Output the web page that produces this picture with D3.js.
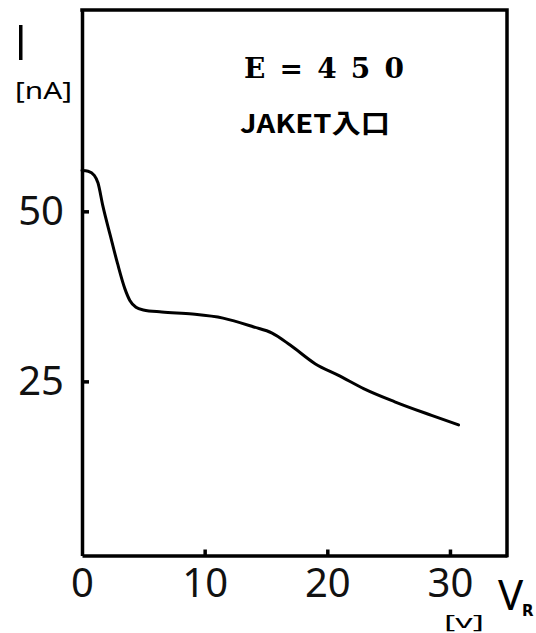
<!DOCTYPE html>
<html>
<head>
<meta charset="utf-8">
<script src="https://cdn.jsdelivr.net/npm/d3@7"></script>
<style>
  body { margin: 0; background: #fff; }
  svg { display: block; }
  .axis path, .axis line { stroke: #000; stroke-width: 3.5; }
  .axis text { font-family: "Noto Sans", sans-serif; fill: #111; }
</style>
</head>
<body>
<div id="chart"></div>
<script>
// retarding voltage V_R [V] and current I [nA]
var voltage = [0, 0.5, 1.0, 1.3, 1.7, 2.3, 2.9, 3.5, 3.9, 4.4, 5.0, 6.5, 9, 11.5, 14, 15.5, 17, 19, 21, 23, 25.5, 28.5, 30.7];
var current = [56.0, 55.9, 55.3, 54.2, 50.8, 46.5, 42.3, 38.6, 36.9, 35.9, 35.5, 35.2, 34.9, 34.3, 33.0, 32.1, 30.3, 27.6, 25.8, 23.9, 22.0, 20.0, 18.6];

var xTicks = [0, 10, 20, 30];
var yTicks = [25, 50];

var W = 536, H = 633;
var margin = {left: 82, right: 507, top: 10, bottom: 555.5};

var svg = d3.select("#chart").append("svg")
    .attr("width", W)
    .attr("height", H);

var x = d3.scaleLinear().domain([0, 34.65]).range([margin.left, margin.right]);
var y = d3.scaleLinear().domain([-0.6, 79.6]).range([margin.bottom, margin.top]);

// frame top and right
svg.append("path")
    .attr("d", "M" + x(0) + "," + y(79.6) + "H" + x(34.65) + "V" + y(-0.6))
    .attr("fill", "none")
    .attr("stroke", "#000")
    .attr("stroke-width", 3.5)
    .attr("stroke-linecap", "square");

// x axis, ticks pointing inward
var xAxis = d3.axisBottom(x)
    .tickValues(xTicks)
    .tickSizeInner(-6)
    .tickSizeOuter(0)
    .tickPadding(13)
    .tickFormat(d3.format("d"));

var gx = svg.append("g")
    .attr("class", "axis")
    .attr("transform", "translate(0," + margin.bottom + ")")
    .call(xAxis);
gx.selectAll("text").attr("font-size", 40).attr("dy", "0.72em");
gx.selectAll(".tick").filter(function(d) { return d === 0; }).select("line").remove();

// y axis
var yAxis = d3.axisLeft(y)
    .tickValues(yTicks)
    .tickSizeInner(-7)
    .tickSizeOuter(0)
    .tickPadding(18);

var gy = svg.append("g")
    .attr("class", "axis")
    .attr("transform", "translate(" + margin.left + ",0)")
    .call(yAxis);
gy.selectAll("text").attr("font-size", 40);

// curve
var line = d3.line()
    .x(function(d, i) { return x(voltage[i]); })
    .y(function(d) { return y(d); })
    .curve(d3.curveMonotoneX);

svg.append("path")
    .datum(current)
    .attr("d", line)
    .attr("fill", "none")
    .attr("stroke", "#000")
    .attr("stroke-width", 3)
    .attr("stroke-linejoin", "round")
    .attr("stroke-linecap", "round");

// axis titles
svg.append("rect")
    .attr("x", 19).attr("y", 25).attr("width", 3.5).attr("height", 35)
    .attr("fill", "#000");

svg.append("text")
    .attr("x", 15).attr("y", 99)
    .attr("font-family", "'Noto Sans', sans-serif")
    .attr("font-size", 24)
    .attr("textLength", 57)
    .attr("lengthAdjust", "spacingAndGlyphs")
    .text("[nA]");

svg.append("text")
    .attr("x", 498).attr("y", 610)
    .attr("font-family", "'Noto Sans', sans-serif")
    .attr("font-size", 42)
    .text("V");

svg.append("text")
    .attr("x", 522).attr("y", 616)
    .attr("font-family", "'DejaVu Sans', sans-serif")
    .attr("font-weight", "bold")
    .attr("font-size", 15)
    .text("R");

svg.append("text")
    .attr("x", 444).attr("y", 628)
    .attr("font-family", "'Noto Sans', sans-serif")
    .attr("font-size", 18)
    .attr("textLength", 40)
    .attr("lengthAdjust", "spacingAndGlyphs")
    .text("[v]");

// annotations
svg.append("text")
    .attr("x", 244).attr("y", 78)
    .attr("font-family", "'DejaVu Serif', serif")
    .attr("font-weight", "bold")
    .attr("font-size", 28)
    .attr("textLength", 160)
    .attr("lengthAdjust", "spacing")
    .text("E = 4 5 0");

svg.append("text")
    .attr("x", 240).attr("y", 133)
    .attr("font-family", "'Noto Sans CJK JP', sans-serif")
    .attr("font-weight", "bold")
    .attr("font-size", 26)
    .attr("textLength", 150)
    .attr("lengthAdjust", "spacingAndGlyphs")
    .text("JAKET入口");
</script>
</body>
</html>
